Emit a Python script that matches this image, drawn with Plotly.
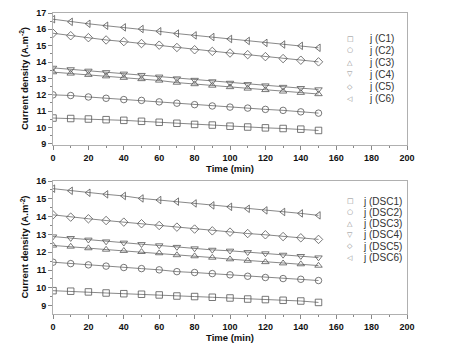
import plotly.graph_objects as go

time_min = [0, 10, 20, 30, 40, 50, 60, 70, 80, 90, 100, 110, 120, 130, 140, 150]

# Top panel (C series)
j_C1 = [10.57, 10.54, 10.51, 10.47, 10.43, 10.37, 10.31, 10.25, 10.18, 10.14, 10.07, 10.02, 9.97, 9.93, 9.89, 9.81]
j_C2 = [11.99, 11.95, 11.86, 11.78, 11.70, 11.65, 11.56, 11.48, 11.39, 11.31, 11.24, 11.18, 11.10, 11.04, 10.95, 10.87]
j_C3 = [13.38, 13.30, 13.22, 13.13, 13.04, 12.96, 12.87, 12.74, 12.65, 12.56, 12.47, 12.38, 12.29, 12.20, 12.12, 12.04]
j_C4 = [13.64, 13.55, 13.46, 13.37, 13.28, 13.20, 13.10, 12.99, 12.90, 12.81, 12.72, 12.64, 12.56, 12.47, 12.40, 12.32]
j_C5 = [15.76, 15.61, 15.49, 15.35, 15.25, 15.13, 15.03, 14.89, 14.75, 14.65, 14.55, 14.45, 14.33, 14.21, 14.11, 14.01]
j_C6 = [16.62, 16.46, 16.34, 16.22, 16.12, 16.02, 15.88, 15.74, 15.63, 15.53, 15.41, 15.29, 15.17, 15.07, 14.99, 14.87]

# Bottom panel (DSC series)
j_DSC1 = [9.84, 9.81, 9.77, 9.71, 9.67, 9.64, 9.60, 9.54, 9.51, 9.47, 9.43, 9.37, 9.34, 9.30, 9.26, 9.18]
j_DSC2 = [11.44, 11.36, 11.29, 11.22, 11.14, 11.08, 11.01, 10.91, 10.86, 10.80, 10.73, 10.65, 10.58, 10.52, 10.48, 10.41]
j_DSC3 = [12.38, 12.32, 12.23, 12.15, 12.08, 12.02, 11.95, 11.84, 11.78, 11.70, 11.61, 11.53, 11.45, 11.38, 11.33, 11.25]
j_DSC4 = [12.88, 12.79, 12.70, 12.60, 12.53, 12.45, 12.38, 12.29, 12.21, 12.13, 12.08, 12.00, 11.93, 11.85, 11.78, 11.70]
j_DSC5 = [14.10, 13.97, 13.88, 13.78, 13.69, 13.60, 13.50, 13.41, 13.30, 13.20, 13.13, 13.05, 12.98, 12.88, 12.81, 12.72]
j_DSC6 = [15.57, 15.45, 15.34, 15.25, 15.16, 15.02, 14.93, 14.84, 14.74, 14.63, 14.55, 14.44, 14.35, 14.26, 14.18, 14.07]

top_names = ["j (C1)", "j (C2)", "j (C3)", "j (C4)", "j (C5)", "j (C6)"]
bot_names = ["j (DSC1)", "j (DSC2)", "j (DSC3)", "j (DSC4)", "j (DSC5)", "j (DSC6)"]
top_series = [j_C1, j_C2, j_C3, j_C4, j_C5, j_C6]
bot_series = [j_DSC1, j_DSC2, j_DSC3, j_DSC4, j_DSC5, j_DSC6]
x_title = "Time (min)"
y_title = "Current density (A.m<sup>-2</sup>)"

symbols = ["square-open", "circle-open", "triangle-up-open", "triangle-down-open", "diamond-open", "triangle-left-open"]
glyphs = ["\u25a1", "\u25cb", "\u25b3", "\u25bd", "\u25c7", "\u25c1"]

# page offset (body margin of the html page)
OFF = 8
W, H = 452, 352
# target page coords of plot frame
PL, PR, PT, PB_top, PT_bot, PB = 53, 407, 13, 145, 181, 314
ML = PL - OFF
MT = PT - OFF
MR = W - (PR - OFF)
MB = H - (PB - OFF)
plot_h = H - MT - MB
plot_w = W - ML - MR
top_dom = [(PB - PB_top) / plot_h, 1.0]
bot_dom = [0.0, (PB - PT_bot) / plot_h]

fig = go.Figure()

line_col = "#6a6a6a"
mk_col = "#555555"

for name, ys, sym in zip(top_names, top_series, symbols):
    fig.add_trace(go.Scatter(x=time_min, y=ys, name=name, mode="lines+markers",
                             line=dict(color=line_col, width=0.8),
                             marker=dict(symbol=sym, size=6.5, color=mk_col, line=dict(width=0.8, color=mk_col)),
                             xaxis="x", yaxis="y", showlegend=False))
for name, ys, sym in zip(bot_names, bot_series, symbols):
    fig.add_trace(go.Scatter(x=time_min, y=ys, name=name, mode="lines+markers",
                             line=dict(color=line_col, width=0.8),
                             marker=dict(symbol=sym, size=6.5, color=mk_col, line=dict(width=0.8, color=mk_col)),
                             xaxis="x2", yaxis="y2", showlegend=False))

tickfont = dict(family="Liberation Sans, Arial, sans-serif", size=9, color="#111111", weight="bold")
titlefont = dict(family="Liberation Sans, Arial, sans-serif", size=9.5, color="#111111", weight="bold")
frame_col = "#b0b0b0"

def xaxis_cfg(anchor):
    return dict(range=[0, 200], dtick=20, tick0=0, ticks="outside", ticklen=4, tickwidth=0.8,
                tickcolor="#888888", showline=True, linecolor=frame_col, linewidth=1, mirror=True,
                showgrid=False, zeroline=False, tickfont=tickfont, automargin=False,
                ticklabeloverflow="allow",
                title=dict(text=x_title, font=titlefont, standoff=3),
                minor=dict(dtick=10, ticks="outside", ticklen=2, tickcolor="#888888", showgrid=False),
                anchor=anchor)

def yaxis_cfg(rng, dom, anchor):
    return dict(range=rng, dtick=1, ticks="outside", ticklen=4, tickwidth=0.8, tickcolor="#888888",
                showline=True, linecolor=frame_col, linewidth=1, mirror=True, automargin=False,
                ticklabeloverflow="allow",
                showgrid=False, zeroline=False, tickfont=tickfont, domain=dom,
                minor=dict(dtick=0.5, ticks="outside", ticklen=2, tickcolor="#888888", showgrid=False),
                anchor=anchor)

def px_x(px):
    return (px - PL) / plot_w

def px_y(py):
    return (PB - py) / plot_h

annotations = []
# y axis titles
for cy in [(PT + PB_top) / 2, (PT_bot + PB) / 2]:
    annotations.append(dict(text=y_title, x=px_x(24), y=px_y(cy), xref="paper", yref="paper",
                            showarrow=False, textangle=-90, xanchor="center", yanchor="middle",
                            font=titlefont))

leg_font = dict(family="Liberation Sans, Arial, sans-serif", size=10, color="#333333")
glyph_font = dict(family="DejaVu Sans, sans-serif", size=7, color="#888888")

for i, name in enumerate(top_names):
    yy = px_y(38.5 + 12.0 * i)
    annotations.append(dict(text=glyphs[i], x=px_x(350), y=yy, xref="paper", yref="paper",
                            showarrow=False, xanchor="center", yanchor="middle", font=glyph_font))
    annotations.append(dict(text=name, x=px_x(367), y=yy, xref="paper", yref="paper",
                            showarrow=False, xanchor="left", yanchor="middle", font=leg_font))
for i, name in enumerate(bot_names):
    yy = px_y(201 + 11.3 * i)
    annotations.append(dict(text=glyphs[i], x=px_x(350), y=yy, xref="paper", yref="paper",
                            showarrow=False, xanchor="center", yanchor="middle", font=glyph_font))
    annotations.append(dict(text=name, x=px_x(361), y=yy, xref="paper", yref="paper",
                            showarrow=False, xanchor="left", yanchor="middle", font=leg_font))

fig.update_layout(
    width=W, height=H,
    margin=dict(l=ML, r=MR, t=MT, b=MB, autoexpand=False),
    paper_bgcolor="white", plot_bgcolor="white",
    xaxis=xaxis_cfg("y"),
    yaxis=yaxis_cfg([8.92, 17], top_dom, "x"),
    xaxis2=xaxis_cfg("y2"),
    yaxis2=yaxis_cfg([8.53, 16], bot_dom, "x2"),
    annotations=annotations,
    showlegend=False,
)

fig.write_html("out.html")
